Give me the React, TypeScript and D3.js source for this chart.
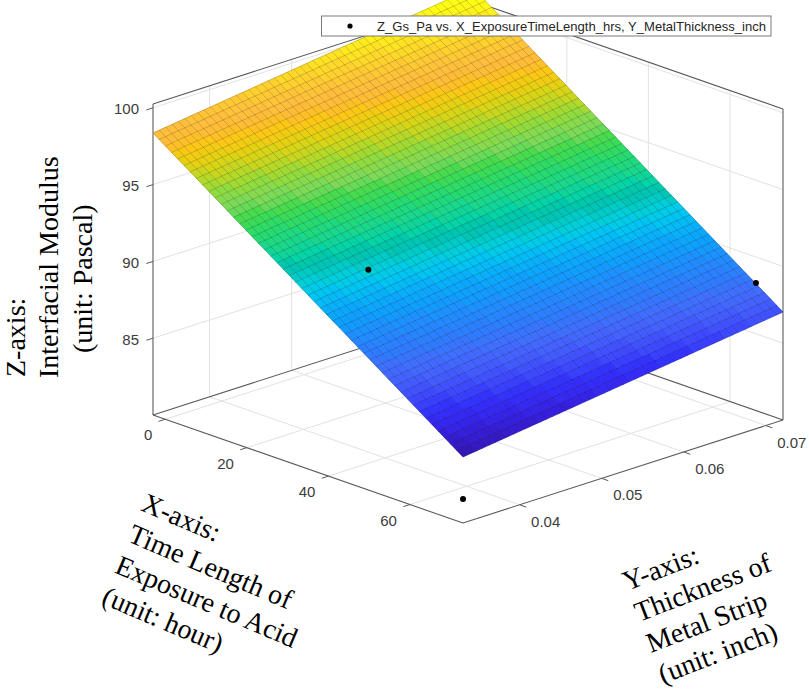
import React from 'react';
import * as d3 from 'd3';

// ---------- data ----------
const xTicks = [0, 20, 40, 60];
const yTicks = [0.04, 0.05, 0.06, 0.07];
const zTicks = [85, 90, 95, 100];
const xTickLabels = ['0', '20', '40', '60'];
const yTickLabels = ['0.04', '0.05', '0.06', '0.07'];
const zTickLabels = ['85', '90', '95', '100'];

const xLimits = [-3, 73];
const yLimits = [0.0331, 0.0721];
const zLimits = [80, 100.25];

// fitted poly11 surface: Z = p00 + p10*X + p01*Y
const fitP00 = 95.49;
const fitP10 = -0.185;
const fitP01 = 70.0;
const gridCount = 50;

// measured points (visible ones)
const pointX = [48.8, 72, 72];
const pointY = [0.0336, 0.0693, 0.0336];
const pointZ = [94.16, 89.31, 81.39];

const legendLabel = 'Z_Gs_Pa vs. X_ExposureTimeLength_hrs, Y_MetalThickness_inch';
const xTitleLines = ['X-axis:', 'Time Length of', 'Exposure to Acid', '(unit: hour)'];
const yTitleLines = ['Y-axis:', 'Thickness of', 'Metal Strip', '(unit: inch)'];
const zTitleLines = ['Z-axis:', 'Interfacial Modulus', '(unit: Pascal)'];

const parula = [
  '#3e26a8', '#402ab4', '#422ec0', '#4332cb', '#4537d5', '#463cde', '#4741e5', '#4747eb',
  '#484df0', '#4852f4', '#4758f8', '#465efb', '#4563fd', '#4269fe', '#3e6fff', '#3875fe',
  '#327cfc', '#2f81fa', '#2e87f7', '#2d8cf3', '#2b91ef', '#2797eb', '#259be8', '#23a0e5',
  '#20a5e3', '#1ca9df', '#18addb', '#12b1d6', '#08b5d0', '#01b8ca', '#02bac3', '#0bbdbd',
  '#19bfb6', '#24c1ae', '#2cc4a7', '#31c69f', '#37c897', '#3fca8e', '#4acb84', '#57cc7a',
  '#64cd6f', '#72cd64', '#81cc59', '#8fcb4e', '#9dc943', '#abc739', '#b9c431', '#c5c22a',
  '#d1bf27', '#dcbd29', '#e6bb2d', '#f0ba36', '#f8ba3d', '#febe3c', '#fec338', '#fec934',
  '#fccf30', '#fad62d', '#f7dc2a', '#f5e327', '#f5e924', '#f6ef20', '#f7f51b', '#f9fb15',
];

// ---------- layout ----------
const W = 809;
const H = 692;
const O = [153, 415];
const EX = [310, 108];
const EY = [320, -103];
const EZ = [0, -311];

const fitZ = (x: number, y: number) => fitP00 + fitP10 * x + fitP01 * y;

// the reference rendering is a bit more vivid than plain parula
const vivid = (hex: string) => {
  const c = d3.hsl(hex);
  if (c.h > 90 && c.h < 200) c.h = c.h - 16 * Math.sin((Math.PI * (c.h - 90)) / 110);
  c.s = Math.min(1, c.s * 1.25);
  return c.formatHex();
};

export default function App() {
  const sx = d3.scaleLinear().domain(xLimits).range([0, 1]);
  const sy = d3.scaleLinear().domain(yLimits).range([0, 1]);
  const sz = d3.scaleLinear().domain(zLimits).range([0, 1]);

  const proj = (x: number, y: number, z: number): [number, number] => {
    const a = sx(x), b = sy(y), c = sz(z);
    return [O[0] + a * EX[0] + b * EY[0] + c * EZ[0], O[1] + a * EX[1] + b * EY[1] + c * EZ[1]];
  };
  const line = (p: [number, number], q: [number, number]) => `M${p[0]},${p[1]}L${q[0]},${q[1]}`;

  const [x0, x1] = xLimits;
  const [y0, y1] = yLimits;
  const [z0, z1] = zLimits;

  // grid lines
  const gridPaths: string[] = [];
  xTicks.forEach((t) => {
    gridPaths.push(line(proj(t, y0, z0), proj(t, y1, z0)));
    gridPaths.push(line(proj(t, y1, z0), proj(t, y1, z1)));
  });
  yTicks.forEach((t) => {
    gridPaths.push(line(proj(x0, t, z0), proj(x1, t, z0)));
    gridPaths.push(line(proj(x0, t, z0), proj(x0, t, z1)));
  });
  zTicks.forEach((t) => {
    gridPaths.push(line(proj(x0, y0, t), proj(x0, y1, t)));
    gridPaths.push(line(proj(x0, y1, t), proj(x1, y1, t)));
  });

  // box back edges
  const boxPaths = [
    line(proj(x0, y0, z0), proj(x0, y0, z1)),
    line(proj(x0, y0, z1), proj(x0, y1, z1)),
    line(proj(x0, y1, z1), proj(x1, y1, z1)),
    line(proj(x1, y1, z0), proj(x1, y1, z1)),
    line(proj(x0, y1, z0), proj(x0, y1, z1)),
    line(proj(x0, y0, z0), proj(x0, y1, z0)),
    line(proj(x0, y1, z0), proj(x1, y1, z0)),
    line(proj(x0, y0, z0), proj(x1, y0, z0)),
    line(proj(x1, y0, z0), proj(x1, y1, z0)),
  ];

  // surface
  const gx = d3.range(gridCount + 1).map((i) => sx.invert(i / gridCount));
  const gy = d3.range(gridCount + 1).map((j) => sy.invert(j / gridCount));
  const zAll: number[] = [];
  gx.forEach((x) => gy.forEach((y) => zAll.push(fitZ(x, y))));
  const [cmin, cmax] = d3.extent(zAll) as [number, number];
  const cscale = d3.scaleQuantize<string>().domain([cmin, cmax]).range(parula.map(vivid));
  const faces: { d: string; fill: string }[] = [];
  for (let i = 0; i < gridCount; i++) {
    for (let j = 0; j < gridCount; j++) {
      const c = [
        [gx[i], gy[j]],
        [gx[i + 1], gy[j]],
        [gx[i + 1], gy[j + 1]],
        [gx[i], gy[j + 1]],
      ];
      const zs = c.map(([x, y]) => fitZ(x, y));
      const pts = c.map(([x, y], k) => proj(x, y, zs[k]));
      const zm = d3.mean(zs) as number;
      faces.push({ d: 'M' + pts.map((p) => p.join(',')).join('L') + 'Z', fill: cscale(zm) });
    }
  }
  // mesh lines
  let mesh = '';
  gx.forEach((x) => {
    mesh += 'M' + gy.map((y) => proj(x, y, fitZ(x, y)).join(',')).join('L');
  });
  gy.forEach((y) => {
    mesh += 'M' + gx.map((x) => proj(x, y, fitZ(x, y)).join(',')).join('L');
  });

  const axisColor = '#5a5a5a';
  const tickColor = '#3c3c3c';
  const sans = "'Liberation Sans', Arial, Helvetica, sans-serif";
  const serif = "'Liberation Serif', 'Times New Roman', serif";

  return (
    <svg width={W} height={H} style={{ position: 'absolute', left: 0, top: 0, background: '#fff' }}>
      <rect x={0} y={0} width={W} height={H} fill="#fff" />
      <g stroke="#e2e2e2" strokeWidth={1} fill="none">
        {gridPaths.map((d, i) => <path key={i} d={d} />)}
      </g>
      <g stroke={axisColor} strokeWidth={1.1} fill="none">
        {boxPaths.map((d, i) => <path key={i} d={d} />)}
      </g>
      {/* ticks */}
      <g stroke={axisColor} strokeWidth={1} fill="none">
        {xTicks.map((t, i) => {
          const p = proj(t, y0, z0);
          return <path key={'xt' + i} d={`M${p[0]},${p[1]}l-6.6,2.1`} />;
        })}
        {yTicks.map((t, i) => {
          const p = proj(x1, t, z0);
          return <path key={'yt' + i} d={`M${p[0]},${p[1]}l6.6,2.3`} />;
        })}
        {zTicks.map((t, i) => {
          const p = proj(x0, y0, t);
          return <path key={'zt' + i} d={`M${p[0]},${p[1]}l-6.6,2.1`} />;
        })}
      </g>
      <g fontFamily={sans} fontSize={15} fill={tickColor}>
        {xTicks.map((t, i) => {
          const p = proj(t, y0, z0);
          return (
            <text key={'xl' + i} x={p[0] - 13} y={p[1] + 15.5} textAnchor="end" dominantBaseline="central">
              {xTickLabels[i]}
            </text>
          );
        })}
        {yTicks.map((t, i) => {
          const p = proj(x1, t, z0);
          return (
            <text key={'yl' + i} x={p[0] + 11.5} y={p[1] + 16.5} textAnchor="start" dominantBaseline="central">
              {yTickLabels[i]}
            </text>
          );
        })}
        {zTicks.map((t, i) => {
          const p = proj(x0, y0, t);
          return (
            <text key={'zl' + i} x={p[0] - 14} y={p[1] + 1} textAnchor="end" dominantBaseline="central">
              {zTickLabels[i]}
            </text>
          );
        })}
      </g>
      {/* surface */}
      <g strokeWidth={0.6} strokeLinejoin="round">
        {faces.map((f, i) => (
          <path key={i} d={f.d} fill={f.fill} stroke={f.fill} />
        ))}
      </g>
      <path d={mesh} fill="none" stroke="#000" strokeOpacity={0.3} strokeWidth={0.6} />
      {/* points */}
      <g fill="#000">
        {pointX.map((x, i) => {
          const p = proj(x, pointY[i], pointZ[i]);
          return <circle key={i} cx={p[0]} cy={p[1]} r={3} />;
        })}
      </g>
      {/* axis titles */}
      <g fontFamily={serif} fontSize={28} fill="#000">
        <text transform="translate(25,377) rotate(-90)">{zTitleLines[0]}</text>
        <text transform="translate(58,378) rotate(-90)">{zTitleLines[1]}</text>
        <text transform="translate(92,353) rotate(-90)">{zTitleLines[2]}</text>
        <text transform="translate(139.8,510.1) rotate(23)">
          {xTitleLines.map((s, i) => (
            <tspan key={i} x={0} dy={i === 0 ? 0 : 33.7}>{s}</tspan>
          ))}
        </text>
        <text transform="translate(627,591) rotate(-21)">
          {yTitleLines.map((s, i) => (
            <tspan key={i} x={0} dy={i === 0 ? 0 : 33.2}>{s}</tspan>
          ))}
        </text>
      </g>
      {/* legend */}
      <g>
        <rect x={321.5} y={16} width={449.5} height={20} fill="#fff" stroke="#6e6e6e" strokeWidth={0.9} />
        <circle cx={350} cy={26} r={2.6} fill="#000" />
        <text x={377} y={30.5} fontFamily={sans} fontSize={13} fill="#262626" textLength={389} lengthAdjust="spacingAndGlyphs">
          {legendLabel}
        </text>
      </g>
    </svg>
  );
}
